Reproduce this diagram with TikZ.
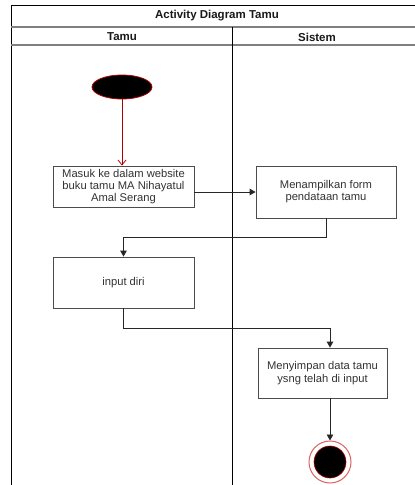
\documentclass[tikz,border=0pt]{standalone}
\usepackage{fontspec}
\setmainfont{Liberation Sans}
\usetikzlibrary{arrows.meta,shapes.geometric}
\definecolor{lanegray}{HTML}{808080}
\definecolor{startred}{HTML}{B20000}
\definecolor{stopred}{HTML}{E06060}
\begin{document}
\begin{tikzpicture}[x=1pt,y=-1pt,
  actbox/.style={draw=black!70, line width=0.8pt, fill=white, align=center,
    font=\fontsize{11.2}{12.2}\selectfont, text=black!80, inner sep=0pt},
  flow/.style={draw=black!85, line width=0.9pt, -{Triangle[length=6pt,width=6.5pt]}},
  startflow/.style={draw=startred, line width=0.8pt, -{Straight Barb[length=5pt,width=8pt]}},
  lanehead/.style={font=\fontsize{11.5}{13}\selectfont\bfseries, text=black!90}
]
\useasboundingbox (0,0) rectangle (415,485);
\fill[white] (0,0) rectangle (415,485);

% swimlane pool: title band, lane headers and lane divider
\begin{scope}
  \clip (0,0) rectangle (415,485);
  \draw[black, line width=0.9pt] (11,500) -- (11,5) -- (430,5);
  \draw[lanegray, line width=1.4pt] (11,27) -- (430,27);
  \draw[lanegray, line width=1.4pt] (11,45) -- (430,45);
  \draw[black, line width=0.9pt] (232,27) -- (232,500);
\end{scope}
\node[lanehead] (title) at (217,16) {Activity Diagram Tamu};
\node[lanehead] (laneA) at (122,37) {Tamu};
\node[lanehead] (laneB) at (317,37) {Sistem};

% start state
\node[ellipse, draw=startred, fill=black, line width=0.8pt,
  minimum width=60pt, minimum height=24pt, inner sep=0pt] (start) at (122,87) {};

% actions
\node[actbox, minimum width=141pt, minimum height=41pt] (masuk) at (123.5,186.5)
  {Masuk ke dalam website\\buku tamu MA Nihayatul\\Amal Serang};
\node[actbox, minimum width=140pt, minimum height=52pt] (form) at (326,192)
  {Menampilkan form\\pendataan tamu};
\node[actbox, minimum width=141pt, minimum height=51pt] (input) at (123.5,282.5)
  {input diri};
\node[actbox, minimum width=129pt, minimum height=50pt] (simpan) at (322.5,373)
  {Menyimpan data tamu\\ysng telah di input};

% final state
\node[circle, draw=stopred, fill=white, line width=1pt,
  minimum size=42pt, inner sep=0pt] (stop) at (330,462) {};
\fill[black, draw=startred, line width=0.6pt] (stop.center) circle[radius=16pt];

% control flow
\draw[startflow] (start.south) -- (start.south |- masuk.north);
\draw[flow] (masuk.east |- form.west) -- (form.west);
\draw[flow] (form.south) -- ++(0,19) -| (input.north);
\draw[flow] (input.south) -- ++(0,20) -| (simpan.north -| stop);
\draw[flow] (simpan.south -| stop) -- (stop.north);
\end{tikzpicture}
\end{document}
